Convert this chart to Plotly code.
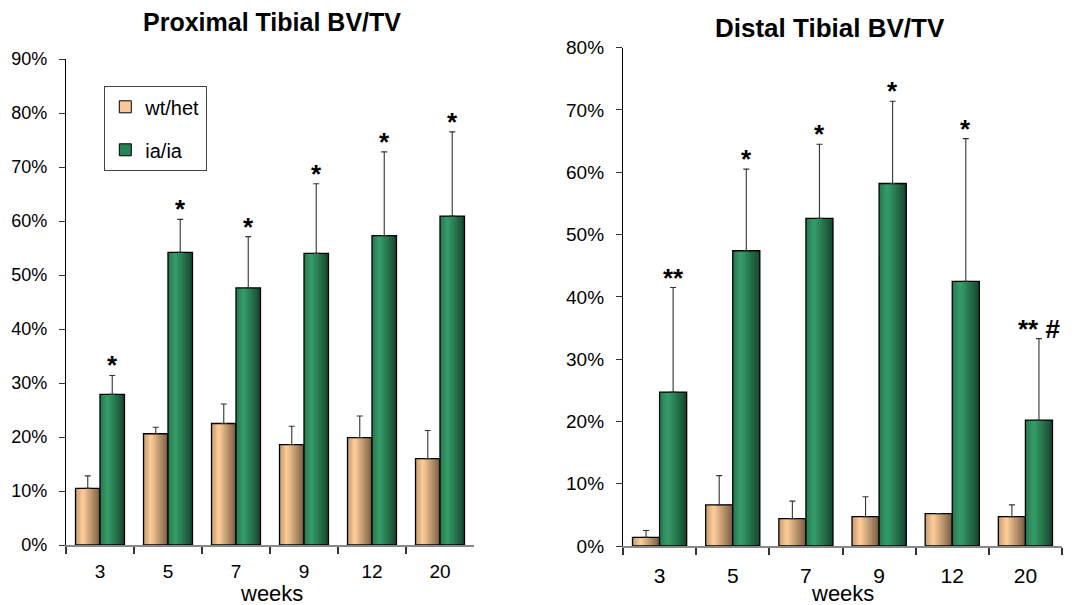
import plotly.graph_objects as go

# ---- data -------------------------------------------------------------
weeks = ["3", "5", "7", "9", "12", "20"]

prox_wt = [10.5, 20.6, 22.5, 18.6, 19.9, 16.0]
prox_wt_err = [2.3, 1.2, 3.6, 3.4, 4.0, 5.2]
prox_ia = [27.9, 54.2, 47.6, 54.0, 57.3, 60.9]
prox_ia_err = [3.5, 6.1, 9.5, 12.9, 15.5, 15.6]
prox_marks = ["*", "*", "*", "*", "*", "*"]

dist_wt = [1.4, 6.6, 4.4, 4.7, 5.2, 4.7]
dist_wt_err = [1.1, 4.7, 2.8, 3.2, None, 1.9]
dist_ia = [24.7, 47.4, 52.6, 58.2, 42.5, 20.2]
dist_ia_err = [16.8, 13.1, 11.9, 13.2, 22.9, 13.1]
dist_marks = ["**", "*", "*", "*", "*", "** #"]

FONT = "Arial, 'Liberation Sans', sans-serif"

# light / dark tones for the cylinder-like shading of each series
WT_LIGHT, WT_DARK = (255, 206, 154), (120, 92, 66)
IA_LIGHT, IA_DARK = (54, 158, 106), (22, 70, 46)


def shade(light, dark, t):
    # brightness profile across the bar: mid-dark at left, brightest at ~30 %, darkest at right
    if t < 0.3:
        f = 0.55 + 0.45 * (t / 0.3)
    else:
        f = 1.0 - (t - 0.3) / 0.7
    f = max(0.0, min(1.0, f))
    c = [round(d + (l - d) * f) for l, d in zip(light, dark)]
    return f"rgb({c[0]},{c[1]},{c[2]})"


fig = go.Figure()

N_STRIPS = 16


def add_series(values, errors, light, dark, offset, width, xa, ya):
    step = width / N_STRIPS
    # each strip runs from its start to the right edge; later strips cover earlier ones
    for k in range(N_STRIPS):
        t = (k + 0.5) / N_STRIPS
        fig.add_trace(go.Bar(
            x=weeks, y=values, xaxis=xa, yaxis=ya,
            width=width - k * step, offset=offset + k * step,
            marker=dict(color=shade(light, dark, t), line=dict(width=0)),
            showlegend=False, hoverinfo="skip",
        ))
    # outline + error bars on top
    fig.add_trace(go.Bar(
        x=weeks, y=values, xaxis=xa, yaxis=ya,
        width=width, offset=offset,
        marker=dict(color="rgba(0,0,0,0)", line=dict(color="black", width=1.3)),
        error_y=dict(type="data", symmetric=False, array=errors,
                     arrayminus=[0] * len(values), color="#333333",
                     thickness=1.1, width=3),
        showlegend=False,
    ))


BW_L = 0.36
BW_R = 0.37
add_series(prox_wt, prox_wt_err, WT_LIGHT, WT_DARK, -BW_L, BW_L, "x", "y")
add_series(prox_ia, prox_ia_err, IA_LIGHT, IA_DARK, 0.0, BW_L, "x", "y")
add_series(dist_wt, dist_wt_err, WT_LIGHT, WT_DARK, -BW_R, BW_R, "x2", "y2")
add_series(dist_ia, dist_ia_err, IA_LIGHT, IA_DARK, 0.0, BW_R, "x2", "y2")

# legend entries
for name, col, grp in [("wt/het", "rgb(250,200,150)", "a"), ("ia/ia", "rgb(40,130,85)", "b")]:
    fig.add_trace(go.Bar(x=[None], y=[None], name=name, legendgroup=grp,
                         marker=dict(color=col, line=dict(color="black", width=1)),
                         xaxis="x", yaxis="y"))

# significance marks above the ia/ia bars
annotations = []
for xa, ya, vals, errs, marks, bw in [("x", "y", prox_ia, prox_ia_err, prox_marks, BW_L),
                                       ("x2", "y2", dist_ia, dist_ia_err, dist_marks, BW_R)]:
    for i, (v, e, m) in enumerate(zip(vals, errs, marks)):
        annotations.append(dict(
            x=i + bw / 2, y=v + e, xref=xa, yref=ya, text=f"<b>{m}</b>",
            showarrow=False, yanchor="bottom", xanchor="center", yshift=-7,
            font=dict(family=FONT, size=26, color="black"),
        ))

# chart titles and axis captions
annotations += [
    dict(x=272 / 1083, y=1 - 22 / 605, xref="paper", yref="paper", text="<b>Proximal Tibial BV/TV</b>",
         showarrow=False, xanchor="center", yanchor="middle", font=dict(family=FONT, size=25, color="black")),
    dict(x=830 / 1083, y=1 - 28 / 605, xref="paper", yref="paper", text="<b>Distal Tibial BV/TV</b>",
         showarrow=False, xanchor="center", yanchor="middle", font=dict(family=FONT, size=26, color="black")),
    dict(x=271 / 1083, y=0, xref="paper", yref="paper", text="weeks",
         showarrow=False, xanchor="center", yanchor="bottom", yshift=-3, font=dict(family=FONT, size=22, color="black")),
    dict(x=842 / 1083, y=0, xref="paper", yref="paper", text="weeks",
         showarrow=False, xanchor="center", yanchor="bottom", yshift=-3, font=dict(family=FONT, size=22, color="black")),
]

xcommon = dict(type="category", showline=True, linecolor="#888888", linewidth=1.5,
               ticks="outside", tickson="boundaries", ticklen=7, tickcolor="#333333",
               tickwidth=1.5, showgrid=False, zeroline=False,
               fixedrange=True, automargin=False)
ycommon = dict(showline=True, linecolor="black", linewidth=1.3, ticks="outside", ticklen=6,
               tickcolor="#333333", tickwidth=1.3, showgrid=False, zeroline=False,
               ticksuffix="%", dtick=10, ticklabelstandoff=8, fixedrange=True, automargin=False)

fig.update_layout(
    width=1083, height=605,
    margin=dict(l=0, r=0, t=0, b=0, pad=0, autoexpand=False),
    paper_bgcolor="white", plot_bgcolor="white",
    barmode="overlay",
    xaxis=dict(xcommon, domain=[66 / 1083, 474 / 1083], anchor="y", range=[-0.5, 5.5],
               ticklabelstandoff=8, tickfont=dict(family=FONT, size=19, color="black")),
    yaxis=dict(ycommon, domain=[1 - 545 / 605, 1 - 59 / 605], anchor="x", range=[0, 90],
               tickfont=dict(family=FONT, size=18, color="black")),
    xaxis2=dict(xcommon, domain=[623 / 1083, 1062 / 1083], anchor="y2", range=[-0.5, 5.5],
                ticklabelstandoff=10, tickfont=dict(family=FONT, size=21, color="black")),
    yaxis2=dict(ycommon, domain=[1 - 546 / 605, 1 - 47.7 / 605], anchor="x2", range=[0, 80],
                tickfont=dict(family=FONT, size=19, color="black")),
    legend=dict(x=104 / 1083, y=1 - 86 / 605, xanchor="left", yanchor="top",
                bordercolor="#444444", borderwidth=1.3, bgcolor="white",
                font=dict(family=FONT, size=20, color="black"),
                tracegroupgap=14, traceorder="grouped"),
    annotations=annotations,
    showlegend=True,
)

fig.write_html("out.html")
